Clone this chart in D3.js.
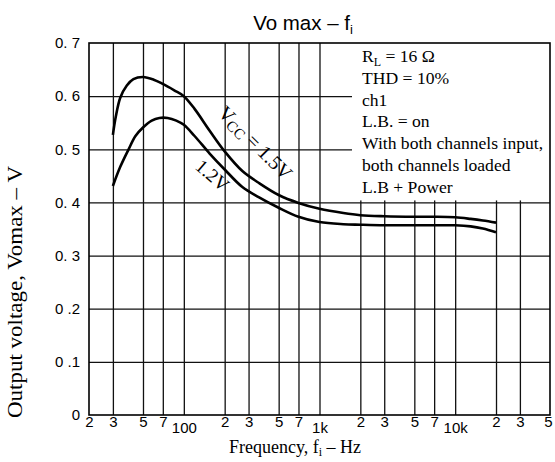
<!DOCTYPE html>
<html><head><meta charset="utf-8">
<script src="https://cdn.jsdelivr.net/npm/d3@7"></script>
<style>body{margin:0;background:#fff}svg{display:block}</style>
</head><body><svg id="c" width="555" height="462"></svg>
<script>
// ---- data ----
const freqTicks = [20,30,50,70,100,200,300,500,700,1000,2000,3000,5000,7000,10000,20000,30000,50000];
const freqTickLabels = ["2","3","5","7","100","2","3","5","7","1k","2","3","5","7","10k","2","3","5"];
const gridFreqs = [30,50,70,100,200,300,500,700,1000,2000,3000,5000,7000,10000,20000,30000];
const voltTicks = [0,0.1,0.2,0.3,0.4,0.5,0.6,0.7];
const voltTickLabels = ["0","0 .1","0 .2","0. 3","0. 4","0. 5","0. 6","0. 7"];
const gridVolts = [0.1,0.2,0.3,0.4,0.5,0.6];

const freq15 = [30,31.5,34,38,42.5,50,60,70,85,100,120,155,200,270,356,500,700,1000,1500,2000,3000,5000,7000,10000,13000,16000,20000];
const vo15   = [0.527,0.561,0.597,0.620,0.632,0.636,0.631,0.623,0.611,0.600,0.576,0.535,0.496,0.459,0.437,0.414,0.399,0.388,0.380,0.376,0.374,0.373,0.373,0.372,0.369,0.366,0.362];
const freq12 = [30,34,39,44,50,58,66,76,88,100,120,155,200,270,356,500,700,1000,1500,2000,3000,5000,7000,10000,13000,16000,20000];
const vo12   = [0.431,0.467,0.499,0.525,0.541,0.554,0.559,0.559,0.554,0.546,0.525,0.492,0.462,0.429,0.410,0.390,0.373,0.363,0.359,0.358,0.357,0.357,0.357,0.357,0.355,0.351,0.344];

const notes = [
  [["R",""],["L","sub"],[" = 16 Ω",""]],
  [["THD = 10%",""]],
  [["ch1",""]],
  [["L.B. = on",""]],
  [["With both channels input,",""]],
  [["both channels loaded",""]],
  [["L.B + Power",""]]
];

// ---- layout ----
const svg = d3.select("#c");
const L = 89, R = 550, T = 43, B = 415;
const x = d3.scaleLog().domain([20,50000]).range([L,R]);
const y = d3.scaleLinear().domain([0,0.7]).range([B,T]);

// gridlines
const gx = svg.append("g").attr("transform",`translate(0,${B})`)
  .call(d3.axisBottom(x).tickValues(gridFreqs).tickSize(-(B-T)).tickFormat(""));
gx.select(".domain").remove();
gx.selectAll("line").attr("stroke","#111").attr("stroke-width",1.3);

const gy = svg.append("g").attr("transform",`translate(${L},0)`)
  .call(d3.axisLeft(y).tickValues(gridVolts).tickSize(-(R-L)).tickFormat(""));
gy.select(".domain").remove();
gy.selectAll("line").attr("stroke","#111").attr("stroke-width",1.3);

// white note box masking grid
svg.append("rect").attr("x",352).attr("y",T).attr("width",R-352).attr("height",y(0.4)-T-2).attr("fill","#fff");

// frame
svg.append("rect").attr("x",L).attr("y",T).attr("width",R-L).attr("height",B-T)
  .attr("fill","none").attr("stroke","#000").attr("stroke-width",1.6);

// curves
const line = d3.line().x(d=>x(d[0])).y(d=>y(d[1])).curve(d3.curveCatmullRom.alpha(0.5));
svg.append("path").attr("d",line(freq15.map((f,i)=>[f,vo15[i]])))
  .attr("fill","none").attr("stroke","#000").attr("stroke-width",2.6);
svg.append("path").attr("d",line(freq12.map((f,i)=>[f,vo12[i]])))
  .attr("fill","none").attr("stroke","#000").attr("stroke-width",2.6);

// x tick labels
const ax = svg.append("g").attr("transform",`translate(0,${B})`)
  .call(d3.axisBottom(x).tickValues(freqTicks).tickSize(0).tickPadding(0)
    .tickFormat((d,i)=>freqTickLabels[i]));
ax.select(".domain").remove();
ax.selectAll("text").attr("font-family","Liberation Sans, Arial, sans-serif")
  .attr("font-size",15).attr("fill","#000").attr("dy",null)
  .attr("y",(d,i)=>freqTickLabels[i].length>1?18:12)
  .attr("x",(d,i)=>i===freqTicks.length-1?-2:0);

// y tick labels
const ay = svg.append("g").attr("transform",`translate(${L},0)`)
  .call(d3.axisLeft(y).tickValues(voltTicks).tickSize(0).tickPadding(9)
    .tickFormat((d,i)=>voltTickLabels[i]));
ay.select(".domain").remove();
ay.selectAll("text").attr("font-family","Liberation Sans, Arial, sans-serif")
  .attr("font-size",15).attr("fill","#000");

// title
const title = svg.append("text").attr("x",303).attr("y",30).attr("text-anchor","middle")
  .attr("font-family","Liberation Sans, Arial, sans-serif").attr("font-size",20.5);
title.append("tspan").text("Vo max – f");
title.append("tspan").attr("font-size",13).attr("dy",4).text("i");

// x axis title
const xt = svg.append("text").attr("x",295).attr("y",453).attr("text-anchor","middle")
  .attr("font-family","Liberation Serif, Times New Roman, serif").attr("font-size",18);
xt.append("tspan").text("Frequency, f");
xt.append("tspan").attr("font-size",12).attr("dy",3).text("i");
xt.append("tspan").attr("dy",-3).text(" – Hz");

// y axis title
svg.append("text").attr("transform","translate(22,292) rotate(-90)").attr("text-anchor","middle")
  .attr("font-family","Liberation Serif, Times New Roman, serif").attr("font-size",20)
  .attr("textLength",252).attr("lengthAdjust","spacingAndGlyphs")
  .text("Output voltage, Vomax – V");

// notes
notes.forEach((segs,i)=>{
  const t = svg.append("text").attr("x",362).attr("y",62+i*21.8)
    .attr("font-family","Liberation Serif, Times New Roman, serif").attr("font-size",17.6);
  let shifted=false;
  segs.forEach(s=>{
    const sp=t.append("tspan").text(s[0]);
    if(s[1]==="sub"){sp.attr("font-size",12).attr("dy",4);shifted=true;}
    else if(shifted){sp.attr("dy",-4);shifted=false;}
  });
});

// curve labels
const l15 = svg.append("text").attr("transform","translate(217,114) rotate(45)")
  .attr("font-family","Liberation Serif, Times New Roman, serif").attr("font-size",20);
l15.append("tspan").text("V");
l15.append("tspan").attr("font-size",15).attr("dy",3).text("CC");
l15.append("tspan").attr("dy",-3).text(" = 1.5V");

svg.append("text").attr("transform","translate(194,168) rotate(41)")
  .attr("font-family","Liberation Serif, Times New Roman, serif").attr("font-size",19)
  .text("1.2V");
</script></body></html>
